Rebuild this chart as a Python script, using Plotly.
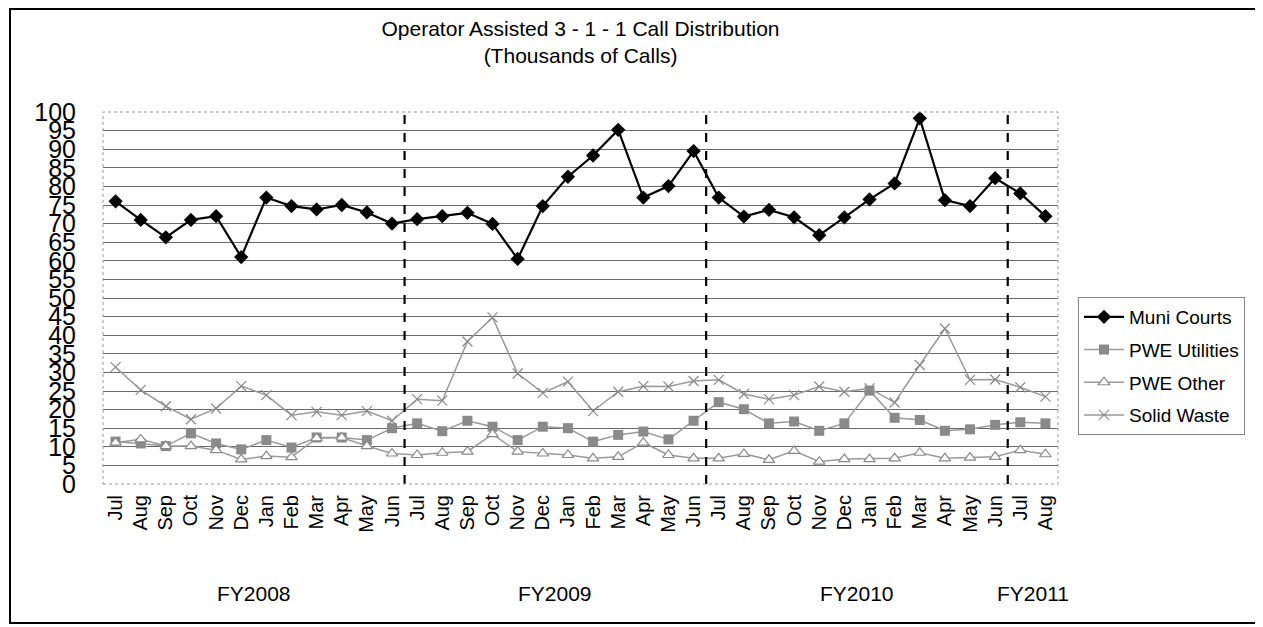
import plotly.graph_objects as go

months = ["Jul", "Aug", "Sep", "Oct", "Nov", "Dec", "Jan", "Feb", "Mar", "Apr", "May", "Jun",
          "Jul", "Aug", "Sep", "Oct", "Nov", "Dec", "Jan", "Feb", "Mar", "Apr", "May", "Jun",
          "Jul", "Aug", "Sep", "Oct", "Nov", "Dec", "Jan", "Feb", "Mar", "Apr", "May", "Jun",
          "Jul", "Aug"]

fy_labels = ["FY2008", "FY2009", "FY2010", "FY2011"]
fy_sizes = [12, 12, 12, 2]

muni_courts = [76, 71, 66.3, 71, 72, 61, 77, 74.7, 73.8, 75, 73, 70,
               71.2, 72, 72.9, 69.9, 60.5, 74.7, 82.6, 88.3, 95.2, 77, 80.1, 89.5,
               77, 71.9, 73.7, 71.7, 66.9, 71.7, 76.5, 80.8, 98.3, 76.3, 74.7, 82.2,
               78.1, 72]

pwe_utilities = [11.4, 10.9, 10.2, 13.6, 10.9, 9.3, 11.8, 9.8, 12.5, 12.5, 11.8, 15,
                 16.3, 14.2, 17, 15.4, 11.8, 15.4, 15, 11.4, 13.2, 14.1, 12, 17,
                 22, 20.1, 16.3, 16.8, 14.3, 16.3, 25.1, 17.8, 17.2, 14.3, 14.7, 15.9,
                 16.6, 16.3]

pwe_other = [11.1, 12, 10.2, 10.2, 9.1, 6.6, 7.5, 7.2, 12.3, 12.5, 10.2, 8.2,
             7.8, 8.4, 8.7, 13.4, 8.7, 8.2, 7.8, 6.9, 7.3, 11.1, 7.8, 6.9,
             6.9, 8.1, 6.5, 8.9, 6, 6.7, 6.7, 6.9, 8.4, 6.9, 7.1, 7.3,
             9.1, 8]

solid_waste = [31.4, 25.3, 20.9, 17.4, 20.3, 26.3, 23.9, 18.5, 19.4, 18.5, 19.6, 17,
               22.8, 22.4, 38.3, 44.8, 29.7, 24.5, 27.5, 19.6, 24.8, 26.3, 26.2, 27.7,
               28, 24.2, 22.8, 23.9, 26.2, 24.8, 25.7, 21.9, 32, 41.8, 28, 28.1,
               26, 23.5]

y_ticks = list(range(0, 101, 5))

FONT = "Arial, Liberation Sans, sans-serif"
OFF = 8  # page body margin
W, H = 1263 - OFF, 627 - OFF
ML, MT = 103 - OFF, 112 - OFF
PW, PH = 955, 372
MR = W - ML - PW
MB = H - MT - PH

x = list(range(len(months)))

fig = go.Figure()
fig.add_trace(go.Scatter(
    x=x, y=muni_courts, name="Muni Courts", mode="lines+markers", legendgroup="a",
    line=dict(color="black", width=2.2),
    marker=dict(symbol="diamond", size=11, color="black")))
fig.add_trace(go.Scatter(
    x=x, y=pwe_utilities, name="PWE Utilities", mode="lines+markers", legendgroup="b",
    line=dict(color="#9a9a9a", width=1.5),
    marker=dict(symbol="square", size=10, color="#8a8a8a")))
fig.add_trace(go.Scatter(
    x=x, y=pwe_other, name="PWE Other", mode="lines+markers", legendgroup="c",
    line=dict(color="#9a9a9a", width=1.5),
    marker=dict(symbol="triangle-up", size=10, color="white",
                line=dict(color="#8a8a8a", width=1.2))))
fig.add_trace(go.Scatter(
    x=x, y=solid_waste, name="Solid Waste", mode="lines+markers", legendgroup="d",
    line=dict(color="#9a9a9a", width=1.5),
    marker=dict(symbol="x-thin-open", size=10, color="#8a8a8a",
                line=dict(color="#8a8a8a", width=1.2))))


def py(ref_y):
    """reference page y pixel -> paper y"""
    return (MT + PH - (ref_y - OFF)) / PH


def px(ref_x):
    return (ref_x - OFF - ML) / PW


shapes = []
annotations = []
start = 0
for i, (lab, n) in enumerate(zip(fy_labels, fy_sizes)):
    if i > 0:
        shapes.append(dict(type="line", xref="x", yref="paper", x0=start - 0.5, x1=start - 0.5,
                           y0=0, y1=1, line=dict(color="black", width=2.2, dash="dash")))
    center = start + (n - 1) / 2
    annotations.append(dict(text=lab, x=center, xref="x", y=py(593), yref="paper",
                            showarrow=False, font=dict(family=FONT, size=21, color="black"),
                            xanchor="center", yanchor="middle"))
    start += n

# plot border (dotted gray)
shapes.append(dict(type="rect", xref="paper", yref="paper", x0=0, x1=1, y0=0, y1=1,
                   line=dict(color="#999999", width=1, dash="dot"), layer="above"))
# outer chart border
shapes.append(dict(type="rect", xref="paper", yref="paper",
                   x0=px(10), x1=px(1256), y0=py(623), y1=py(9),
                   line=dict(color="black", width=2)))

fig.update_layout(
    width=W, height=H,
    margin=dict(l=ML, r=MR, t=MT, b=MB),
    paper_bgcolor="white", plot_bgcolor="white",
    font=dict(family=FONT, color="black"),
    title=dict(text="Operator Assisted 3 - 1 - 1 Call Distribution<br>(Thousands of Calls)",
               x=0.5, xref="paper", xanchor="center",
               y=1 - 28 / H, yref="container", yanchor="middle",
               font=dict(family=FONT, size=21, color="black")),
    xaxis=dict(range=[-0.5, len(months) - 0.5], tickvals=x, ticktext=months, tickangle=-90,
               showgrid=False, zeroline=False, showline=False, ticks="",
               tickfont=dict(family=FONT, size=20, color="black"), ticklabelstandoff=6),
    yaxis=dict(range=[0, 100], tickvals=y_ticks, ticktext=[str(v) for v in y_ticks],
               showgrid=True, gridcolor="#6a6a6a", gridwidth=1, zeroline=False,
               showline=False, ticks="", ticklabelstandoff=26,
               tickfont=dict(family=FONT, size=25, color="black")),
    legend=dict(x=px(1078), xanchor="left", y=py(297), yanchor="top",
                bordercolor="#888888", borderwidth=1, bgcolor="white",
                font=dict(family=FONT, size=19, color="black"),
                tracegroupgap=5, itemwidth=40),
    showlegend=True,
    shapes=shapes,
    annotations=annotations,
)

fig.write_html("out.html")
